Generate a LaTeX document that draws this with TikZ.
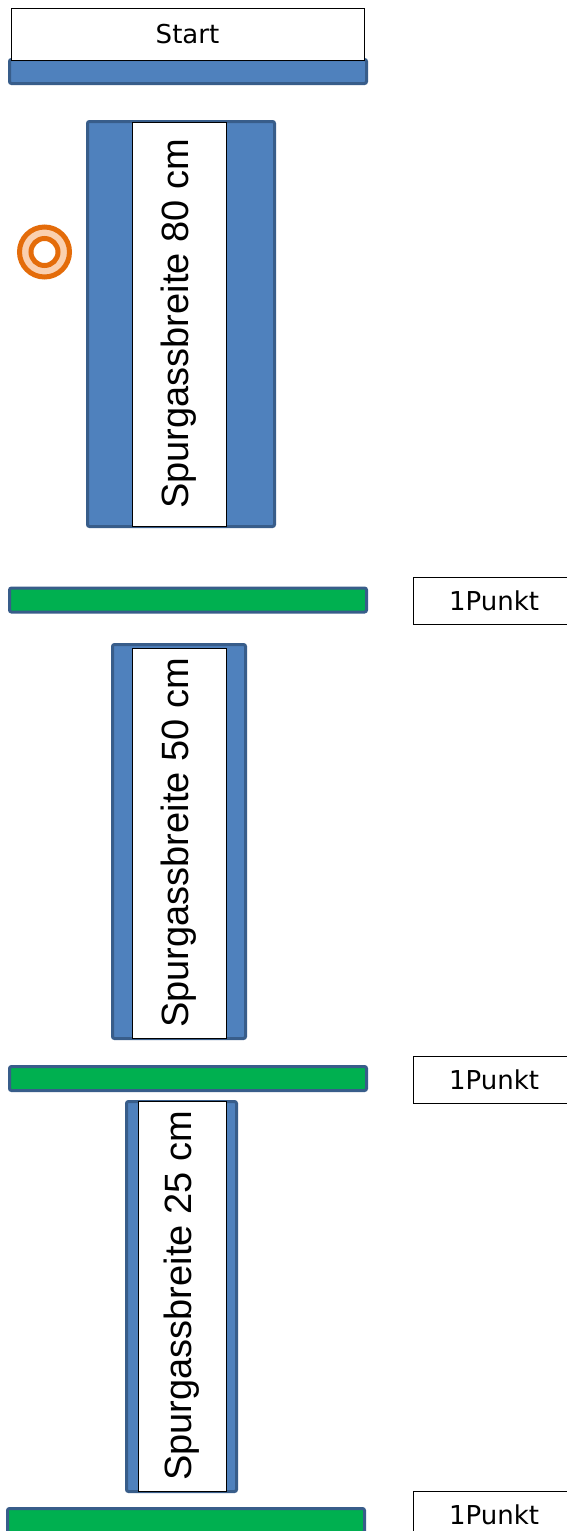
\documentclass[tikz,border=0pt]{standalone}
\usepackage{fontspec}
\newfontfamily\lanefont{Liberation Sans}
\newfontfamily\boxfont{DejaVu Sans}
\usepackage{tikz}
\usetikzlibrary{calc}

\definecolor{laneblue}{HTML}{4F81BD}
\definecolor{laneedge}{HTML}{385D8A}
\definecolor{bargreen}{HTML}{00B050}
\definecolor{ringorange}{HTML}{E46C0A}
\definecolor{ringpeach}{HTML}{FAD0B0}

\tikzset{
  textbox/.style={draw=black, line width=1pt, fill=white, inner sep=0pt,
    font=\boxfont\fontsize{26}{30}\selectfont},
  bar/.style={draw=laneedge, line width=3pt, rounded corners=2pt, inner sep=0pt,
    minimum width=357pt, minimum height=24pt},
  lane/.style={draw=laneedge, fill=laneblue, line width=3pt, rounded corners=2pt, inner sep=0pt},
  lanelabel/.style={draw=black, line width=1pt, fill=white, inner sep=0pt, rotate=90,
    font=\lanefont\fontsize{38}{45}\selectfont},
  ring/.style={circle, draw=ringorange, line width=5pt, inner sep=0pt}
}

\begin{document}
\begin{tikzpicture}[x=1pt, y=-1pt]
    \clip (0,0) rectangle (567,1531);
    \fill[white] (0,0) rectangle (567,1531);

    % start line
    \node[bar, fill=laneblue] (startbar) at (188,71.5) {};
    \node[textbox, minimum width=353pt, minimum height=52pt] (start) at (187.5,34) {Start};

    % lanes with their widths
    \node[lane, minimum width=187pt, minimum height=405pt] (lane-80) at (181,324) {};
    \node[lanelabel, minimum width=404pt, minimum height=94pt] (label-80) at (179,324) {Spurgassbreite 80 cm};

    \node[lane, minimum width=133pt, minimum height=394pt] (lane-50) at (179,841.5) {};
    \node[lanelabel, minimum width=390pt, minimum height=94pt] (label-50) at (179,843) {Spurgassbreite 50 cm};

    \node[lane, minimum width=110pt, minimum height=390pt] (lane-25) at (181.5,1296.5) {};
    \node[lanelabel, minimum width=390pt, minimum height=88pt] (label-25) at (182,1296) {Spurgassbreite 25 cm};

    % target
    \node[ring, fill=ringpeach, minimum size=50pt] (target) at (44.5,252) {};
    \node[ring, fill=white, minimum size=27pt] (target-inner) at (target) {};

    % goal lines and points
    \foreach \n/\x/\y/\t in {1/188/600/600.5, 2/188/1078.5/1079.5, 3/186/1520.5/1514.5} {
      \node[bar, fill=bargreen] (goal-\n) at (\x,\y) {};
      \node[textbox, minimum width=162pt, minimum height=47pt] (point-\n) at (494,\t) {1Punkt};
    };
\end{tikzpicture}
\end{document}
